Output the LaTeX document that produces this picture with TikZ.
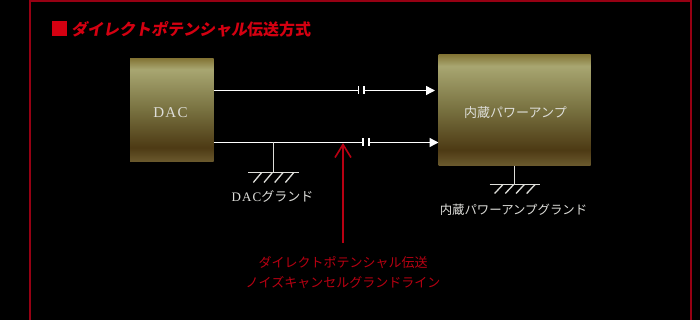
\documentclass[tikz,border=0pt]{standalone}
\usepackage{fontspec}
\setmainfont{Liberation Serif}
\newfontfamily\jpfont{Noto Sans CJK JP}
\newfontfamily\jpslant[FakeSlant=0.18]{Noto Sans CJK JP}
\newfontfamily\dacfont[LetterSpace=8]{Liberation Serif}
\usetikzlibrary{arrows.meta}
\definecolor{metalA}{HTML}{6B5A2E}
\definecolor{metalB}{HTML}{4D3A14}
\definecolor{metalC}{HTML}{77703F}
\definecolor{metalD}{HTML}{A8A671}
\definecolor{metalE}{HTML}{857738}
\definecolor{framered}{HTML}{960013}
\definecolor{titlered}{HTML}{D40011}
\definecolor{labelred}{HTML}{B80012}
\definecolor{labelgray}{HTML}{DEDEDA}
\pgfdeclareverticalshading{metalshade}{100bp}{color(0bp)=(metalA); color(25bp)=(metalA); color(32bp)=(metalB); color(50bp)=(metalC); color(70bp)=(metalD); color(75bp)=(metalE); color(100bp)=(metalE)}
\tikzset{
	metalbox/.style={rectangle, shading=metalshade, inner sep=0pt, text depth=0pt, text=labelgray},
	wire/.style={white, line width=1.4pt},
	sigarrow/.style={wire, -{Triangle[length=9pt,width=9pt]}},
	gnd/.style={labelgray, line width=1.3pt},
	graylabel/.style={text=labelgray, inner sep=0pt, font=\jpfont\fontsize{12.4}{15}\selectfont},
	redlabel/.style={text=labelred, inner sep=0pt, font=\jpfont\fontsize{13}{20}\selectfont, align=center}
}
\begin{document}
\begin{tikzpicture}[x=1pt,y=-1pt]
	\useasboundingbox[fill=black] (0,0) rectangle (700,320);
	\draw[framered, line width=2pt] (29.5,320)--(29.5,1.5)--(690.5,1.5)--(690.5,320);
	% Tieu de
	\node[fill=titlered, minimum size=15pt, inner sep=0pt] (mark) at (59.5,28.5) {};
	\node[anchor=west, text=titlered, inner sep=0pt, font=\fontsize{16}{18}\selectfont\bfseries] (title) at (71,29) {\jpslant ダイレクトポテンシャル\jpfont 伝送方式};
	% Khoi
	\node[metalbox, minimum width=83.5pt, minimum height=103pt] (dac) at (171.75,110.5) {};
	\node[metalbox, minimum width=152pt, minimum height=110.5pt] (amp) at (514.5,110.25) {};
	\node[text=labelgray, inner sep=0pt, font=\dacfont\fontsize{15}{17}\selectfont] (dactext) at (170.5,113) {DAC};
	\node[text=labelgray, inner sep=0pt, font=\jpfont\fontsize{13}{15}\selectfont] (amptext) at (515.5,113) {内蔵パワーアンプ};
	% Duong tin hieu
	\coordinate (topA) at (358.5,90.5);
	\coordinate (topB) at (364,90.5);
	\coordinate (topEnd) at (435,90.5);
	\coordinate (lowA) at (363,142.5);
	\coordinate (lowB) at (369,142.5);
	\coordinate (dacTop) at (213.5,90.5);
	\coordinate (dacLow) at (213.5,142.5);
	\coordinate (lowEnd) at (438.5,142.5);
	\draw[wire] (dacTop)--(topA);
	\draw[sigarrow] (topB)--(topEnd);
	\draw[wire] (dacLow)--(lowA);
	\draw[sigarrow] (lowB)--(lowEnd);
	\draw[wire, line width=1.2pt] (358.5,86.5)--(358.5,94.5) (364,86.5)--(364,94.5) (363,138.5)--(363,146.5) (369,138.5)--(369,146.5);
	% Dat DAC
	\coordinate (gndA) at (273.5,172.5);
	\coordinate (tapA) at (273.5,142.5);
	\draw[gnd] (tapA)--(gndA) (248,172.5)--(299,172.5);
	\foreach \i in {0,1,2,3} \draw[gnd] (261.7+10.7*\i,172.5)--(253.3+10.7*\i,182.5);
	\node[graylabel, font=\jpfont\fontsize{13}{15}\selectfont] (dacgnd) at (272.5,196.5) {{\dacfont DAC}グランド};
	% Dat ampli
	\coordinate (gndB) at (514.5,184.5);
	\draw[gnd] (amp.south-|gndB)--(gndB) (489.5,184.5)--(540,184.5);
	\foreach \i in {0,1,2,3} \draw[gnd] (503+10.7*\i,184.5)--(494.6+10.7*\i,193.5);
	\node[graylabel] (ampgnd) at (513.5,209.5) {内蔵パワーアンプグランド};
	% Chu thich do
	\node[redlabel] (note) at (343,273) {ダイレクトポテンシャル伝送\\ノイズキャンセルグランドライン};
	\coordinate (noteTop) at (343,243);
	\coordinate (noteTip) at (343,143);
	\draw[labelred, line width=1.6pt, -{Straight Barb[length=13pt,width=16pt]}] (noteTop)--(noteTip);
\end{tikzpicture}
\end{document}
